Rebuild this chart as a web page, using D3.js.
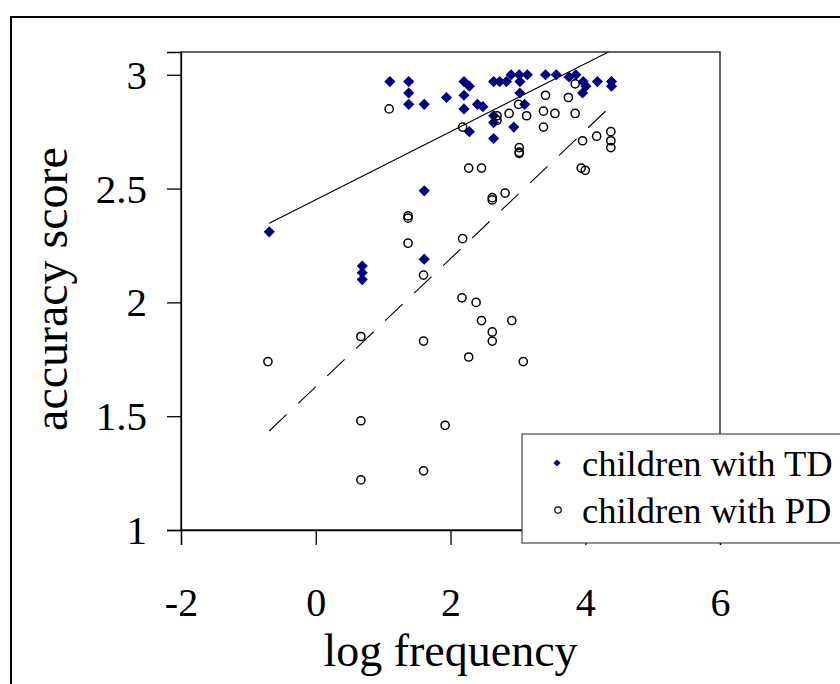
<!DOCTYPE html>
<html>
<head>
<meta charset="utf-8">
<script src="https://cdn.jsdelivr.net/npm/d3@7"></script>
<style>
  body { margin: 0; background: #fff; }
  text { font-family: "Liberation Serif", "Times New Roman", serif; fill: #000; }
</style>
</head>
<body>
<div id="chart"></div>
<script>
/* accuracy score vs log frequency scatter */

const tdLogFreq = [-0.69, 0.69, 0.69, 0.69, 1.10, 1.38, 1.38, 1.38, 1.61, 1.61, 1.61, 1.94,
    2.20, 2.28, 2.20, 2.20, 2.40, 2.48, 2.28, 2.64, 2.73, 2.83, 2.90, 3.02, 3.14, 3.03, 3.03,
    3.10, 2.64, 2.64, 2.94, 2.64, 3.41, 3.57, 3.76, 3.86, 3.97, 4.01, 3.96, 4.18, 4.39, 4.39];
const tdAccuracy = [2.31, 2.16, 2.13, 2.10, 2.97, 2.97, 2.92, 2.87, 2.87, 2.49, 2.19, 2.90,
    2.97, 2.95, 2.91, 2.85, 2.87, 2.86, 2.75, 2.97, 2.97, 2.97, 3.00, 3.00, 3.00, 2.97, 2.92,
    2.87, 2.82, 2.79, 2.77, 2.72, 3.00, 3.00, 2.99, 3.00, 2.97, 2.95, 2.92, 2.97, 2.97, 2.95];

const pdLogFreq = [-0.71, 0.67, 0.67, 0.67, 1.09, 1.37, 1.37, 1.37, 1.60, 1.60, 1.60, 1.92,
    2.18, 2.17, 2.38, 2.46, 2.91, 2.62, 2.62, 2.27, 3.08, 2.18, 2.69, 2.69, 2.87, 3.01, 3.13,
    3.02, 3.02, 3.02, 2.27, 2.46, 2.62, 2.62, 2.81, 3.41, 3.38, 3.38, 3.55, 3.75, 3.85, 3.85,
    3.96, 4.17, 4.38, 4.38, 4.38, 3.94, 4.00];
const pdAccuracy = [1.74, 1.85, 1.48, 1.22, 2.85, 2.38, 2.37, 2.26, 2.12, 1.83, 1.26, 1.46,
    2.28, 2.02, 2.00, 1.92, 1.92, 1.87, 1.83, 1.76, 1.74, 2.77, 2.82, 2.80, 2.83, 2.87, 2.82,
    2.68, 2.66, 2.655, 2.59, 2.59, 2.46, 2.45, 2.48, 2.91, 2.84, 2.77, 2.83, 2.90, 2.96, 2.83,
    2.71, 2.73, 2.75, 2.71, 2.68, 2.59, 2.58];

// linear trendlines, end points [log frequency, accuracy]
const tdTrend = [[-0.69, 2.348], [4.39, 3.107]];
const pdTrend = [[-0.69, 1.435], [4.39, 2.865]];

const xTicks = [-2, 0, 2, 4, 6];
const yTicks = [1, 1.5, 2, 2.5, 3];
const legendLabels = ["children with TD", "children with PD"];

const width = 840,
      height = 684,
      margin = ({ top: 52, right: 120, bottom: 154, left: 181 });

const tdData = tdLogFreq.map((x, i) => ({ x, y: tdAccuracy[i] }));
const pdData = pdLogFreq.map((x, i) => ({ x, y: pdAccuracy[i] }));

let svg = d3.select("#chart")
    .append("svg")
    .attr("width", width)
    .attr("height", height);

let x = d3.scaleLinear()
    .domain([-2, 6])
    .range([margin.left, width - margin.right]);

let y = d3.scaleLinear()
    .domain([1, 3.1])
    .range([height - margin.bottom, margin.top]);

// outer chart frame (runs off the right/bottom edge)
svg.append("rect")
    .attr("x", 11).attr("y", 17)
    .attr("width", 900).attr("height", 800)
    .attr("fill", "none")
    .attr("stroke", "#000")
    .attr("stroke-width", 2);

// plot area
svg.append("rect")
    .attr("x", x(-2)).attr("y", y(3.1))
    .attr("width", x(6) - x(-2)).attr("height", y(1) - y(3.1))
    .attr("fill", "none")
    .attr("stroke", "#333")
    .attr("stroke-width", 1.5);

svg.append("clipPath").attr("id", "plotclip")
    .append("rect")
    .attr("x", x(-2)).attr("y", y(3.1))
    .attr("width", x(6) - x(-2)).attr("height", y(1) - y(3.1));

let xAxis = svg.append("g")
    .attr("transform", `translate(0,${y(1)})`)
    .call(d3.axisBottom(x).tickValues(xTicks).tickSize(15).tickFormat(d => String(d)));
xAxis.selectAll("text")
    .attr("y", 86).attr("dy", 0)
    .style("font-size", "40px");

let yAxis = svg.append("g")
    .attr("transform", `translate(${x(-2)},0)`)
    .call(d3.axisLeft(y).tickValues(yTicks).tickSize(14).tickFormat(d => String(d)));
yAxis.selectAll("text")
    .attr("x", -34).attr("dy", "0.33em")
    .style("font-size", "41px");

svg.selectAll(".domain, .tick line")
    .attr("stroke", "#000")
    .attr("stroke-width", 1.3);

// trendlines
let line = d3.line().x(d => x(d[0])).y(d => y(d[1]));

svg.append("path")
    .attr("clip-path", "url(#plotclip)")
    .attr("d", line(tdTrend))
    .attr("fill", "none")
    .attr("stroke", "#000")
    .attr("stroke-width", 1.1);

svg.append("path")
    .attr("clip-path", "url(#plotclip)")
    .attr("d", line(pdTrend))
    .attr("fill", "none")
    .attr("stroke", "#000")
    .attr("stroke-width", 1.1)
    .attr("stroke-dasharray", "24,16");

// points
const diamond = d3.symbol().type(d3.symbolSquare).size(62);

svg.append("g")
    .selectAll("path")
    .data(tdData)
    .join("path")
    .attr("d", diamond)
    .attr("transform", d => `translate(${x(d.x)},${y(d.y)}) rotate(45)`)
    .attr("fill", "#000080");

svg.append("g")
    .selectAll("circle")
    .data(pdData)
    .join("circle")
    .attr("cx", d => x(d.x))
    .attr("cy", d => y(d.y))
    .attr("r", 4.1)
    .attr("fill", "none")
    .attr("stroke", "#000")
    .attr("stroke-width", 1.5);

// axis titles
svg.append("text")
    .attr("x", (x(-2) + x(6)) / 2)
    .attr("y", 666)
    .attr("text-anchor", "middle")
    .style("font-size", "46px")
    .text("log frequency");

svg.append("text")
    .attr("transform", `translate(67,${(y(1) + y(3.1)) / 2 - 2}) rotate(-90)`)
    .attr("text-anchor", "middle")
    .style("font-size", "48px")
    .text("accuracy score");

// legend
let legend = svg.append("g");

legend.append("rect")
    .attr("x", 522).attr("y", 434)
    .attr("width", 340).attr("height", 109)
    .attr("fill", "#fff")
    .attr("stroke", "#222")
    .attr("stroke-width", 1);

legend.append("path")
    .attr("d", d3.symbol().type(d3.symbolSquare).size(26)())
    .attr("transform", "translate(557,463) rotate(45)")
    .attr("fill", "#000080");

legend.append("circle")
    .attr("cx", 558).attr("cy", 510)
    .attr("r", 3.2)
    .attr("fill", "none")
    .attr("stroke", "#000")
    .attr("stroke-width", 1.2);

legend.selectAll("text")
    .data(legendLabels)
    .join("text")
    .attr("x", 582)
    .attr("y", (d, i) => 476 + i * 47)
    .style("font-size", "36.5px")
    .text(d => d);
</script>
</body>
</html>
